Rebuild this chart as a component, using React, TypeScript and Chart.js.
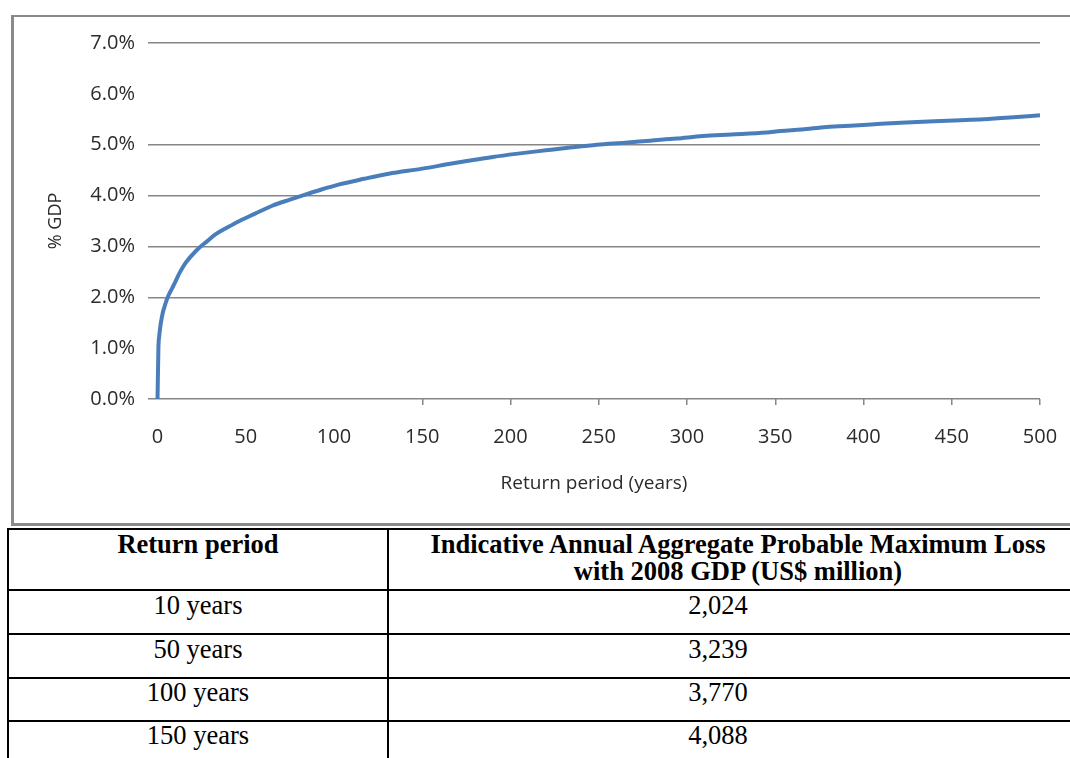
import React, { useEffect, useRef } from "react";
import { Chart, registerables } from "chart.js";

Chart.register(...registerables);

// Return period (years) and the matching aggregate PML as % of GDP
const returnPeriods = [
  0, 0.5, 1, 1.5, 2, 3, 4, 5, 6, 8, 10, 12.5, 16, 22, 28, 33, 40, 47, 55, 65,
  75, 82, 92, 103, 117, 131, 150, 165, 177, 190, 203, 220, 235, 249, 265, 279,
  294, 309, 325, 345, 353, 365, 379, 395, 410, 421, 440, 455, 468, 485, 500,
];
const pmlPercentGdp = [
  0, 1.0, 1.25, 1.4, 1.52, 1.7, 1.82, 1.93, 2.02, 2.16, 2.3, 2.48, 2.68, 2.92,
  3.1, 3.24, 3.38, 3.51, 3.64, 3.8, 3.92, 4.0, 4.11, 4.22, 4.33, 4.43, 4.53,
  4.62, 4.69, 4.76, 4.82, 4.89, 4.95, 5.0, 5.04, 5.08, 5.12, 5.17, 5.2, 5.24,
  5.27, 5.3, 5.35, 5.38, 5.41, 5.43, 5.46, 5.48, 5.5, 5.54, 5.58,
];

const xTickValues = [0, 50, 100, 150, 200, 250, 300, 350, 400, 450, 500];
const xTicksWithoutMark = [0, 50, 100];
const yGridHidden = [1, 6];

const xAxisTitle = "Return period (years)";
const yAxisTitle = "% GDP";

const tableHeadPeriod = "Return period";
const tableHeadLossLines = [
  "Indicative Annual Aggregate Probable Maximum Loss",
  "with 2008 GDP (US$ million)",
];
const tablePeriods = ["10 years", "50 years", "100 years", "150 years"];
const tableLosses = ["2,024", "3,239", "3,770", "4,088"];

const GRID = "#868686";
const TEXT = "#2b2b2b";
const LINE = "#4A7EBB";
const CHART_FONT = "'Open Sans', sans-serif";
const CLEAR = "rgba(0,0,0,0)";

const inList = (v: number, list: number[]) => list.some((h) => Math.abs(v - h) < 1e-6);

function PmlChart() {
  const canvasRef = useRef<HTMLCanvasElement | null>(null);

  useEffect(() => {
    const canvas = canvasRef.current;
    if (!canvas) return;
    const points = returnPeriods.map((x, i) => ({ x, y: pmlPercentGdp[i] }));
    const chart = new Chart(canvas, {
      type: "line",
      data: {
        datasets: [
          {
            data: points,
            borderColor: LINE,
            borderWidth: 4,
            pointRadius: 0,
            cubicInterpolationMode: "monotone",
            fill: false,
          },
        ],
      },
      options: {
        animation: false,
        responsive: false,
        events: [],
        layout: { padding: { top: 26, right: 30, left: 0, bottom: 0 } },
        plugins: {
          legend: { display: false },
          tooltip: { enabled: false },
        },
        scales: {
          x: {
            type: "linear",
            min: -5.4,
            max: 500,
            afterBuildTicks: (scale: any) => {
              scale.ticks = xTickValues.map((v) => ({ value: v }));
            },
            afterFit: (scale: any) => {
              scale.height = 124;
              scale.paddingLeft = 0;
              scale.paddingRight = 0;
            },
            border: { display: false },
            grid: {
              drawOnChartArea: false,
              drawTicks: true,
              tickLength: 6,
              lineWidth: 1.5,
              tickColor: (ctx: any) => {
                const v = ctx.tick ? ctx.tick.value : xTickValues[ctx.index];
                return inList(v, xTicksWithoutMark) ? CLEAR : GRID;
              },
            },
            ticks: {
              padding: 20,
              maxRotation: 0,
              color: TEXT,
              font: { family: CHART_FONT, size: 20 },
              callback: (v: any) => String(v),
            },
            title: {
              display: true,
              text: xAxisTitle,
              color: TEXT,
              font: { family: CHART_FONT, size: 19 },
              padding: { top: 0, bottom: 28 },
            },
          },
          y: {
            type: "linear",
            min: 0,
            max: 7,
            afterFit: (scale: any) => {
              scale.width = 134;
            },
            border: { display: false },
            grid: {
              drawTicks: false,
              lineWidth: 1.5,
              color: (ctx: any) => {
                const v = ctx.tick ? ctx.tick.value : ctx.index;
                return inList(v, yGridHidden) ? CLEAR : GRID;
              },
            },
            ticks: {
              stepSize: 1,
              padding: 13,
              color: TEXT,
              font: { family: CHART_FONT, size: 20 },
              callback: (v: any) => Number(v).toFixed(1) + "%",
            },
            title: {
              display: true,
              text: yAxisTitle,
              color: TEXT,
              font: { family: CHART_FONT, size: 18 },
              padding: { top: 31, bottom: 0 },
            },
          },
        },
      },
    });
    return () => chart.destroy();
  }, []);

  return <canvas ref={canvasRef} width={1056} height={506} style={{ display: "block" }} />;
}

const SERIF = "'Liberation Serif', 'Times New Roman', serif";
const rowTops = [591, 635, 678, 721];

const cellText = (left: number, top: number, width: number, bold: boolean, lh: number): React.CSSProperties => ({
  position: "absolute",
  left,
  top,
  width,
  textAlign: "center",
  fontFamily: SERIF,
  fontWeight: bold ? "bold" : "normal",
  fontSize: 26.5,
  lineHeight: `${lh}px`,
  color: "#000",
  whiteSpace: "nowrap",
});

export default function App() {
  return (
    <div
      style={{
        position: "absolute",
        left: 0,
        top: 0,
        width: 1070,
        height: 758,
        overflow: "hidden",
        background: "#fff",
      }}
    >
      {/* chart frame */}
      <div
        style={{
          position: "absolute",
          left: 11,
          top: 15,
          width: 1120,
          height: 511,
          boxSizing: "border-box",
          borderLeft: "3px solid #8a8a8a",
          borderTop: "2px solid #8a8a8a",
          borderBottom: "3px solid #8a8a8a",
        }}
      />
      <div style={{ position: "absolute", left: 14, top: 17 }}>
        <PmlChart />
      </div>

      {/* table grid */}
      <div style={{ position: "absolute", left: 7, top: 528, width: 2, height: 240, background: "#000" }} />
      <div style={{ position: "absolute", left: 387, top: 528, width: 2, height: 240, background: "#000" }} />
      {[528, 589, 633, 677, 720].map((y) => (
        <div
          key={y}
          style={{ position: "absolute", left: 7, top: y, width: 1100, height: 2, background: "#000" }}
        />
      ))}

      {/* header */}
      <div style={cellText(9, 530.5, 378, true, 27)}>{tableHeadPeriod}</div>
      <div style={cellText(389, 530.5, 698, true, 27)}>
        {tableHeadLossLines.map((t) => (
          <div key={t}>{t}</div>
        ))}
      </div>

      {/* body rows */}
      {tablePeriods.map((p, i) => (
        <React.Fragment key={p}>
          <div style={cellText(9, rowTops[i], 378, false, 28)}>{p}</div>
          <div style={cellText(389, rowTops[i], 658, false, 28)}>{tableLosses[i]}</div>
        </React.Fragment>
      ))}
    </div>
  );
}
